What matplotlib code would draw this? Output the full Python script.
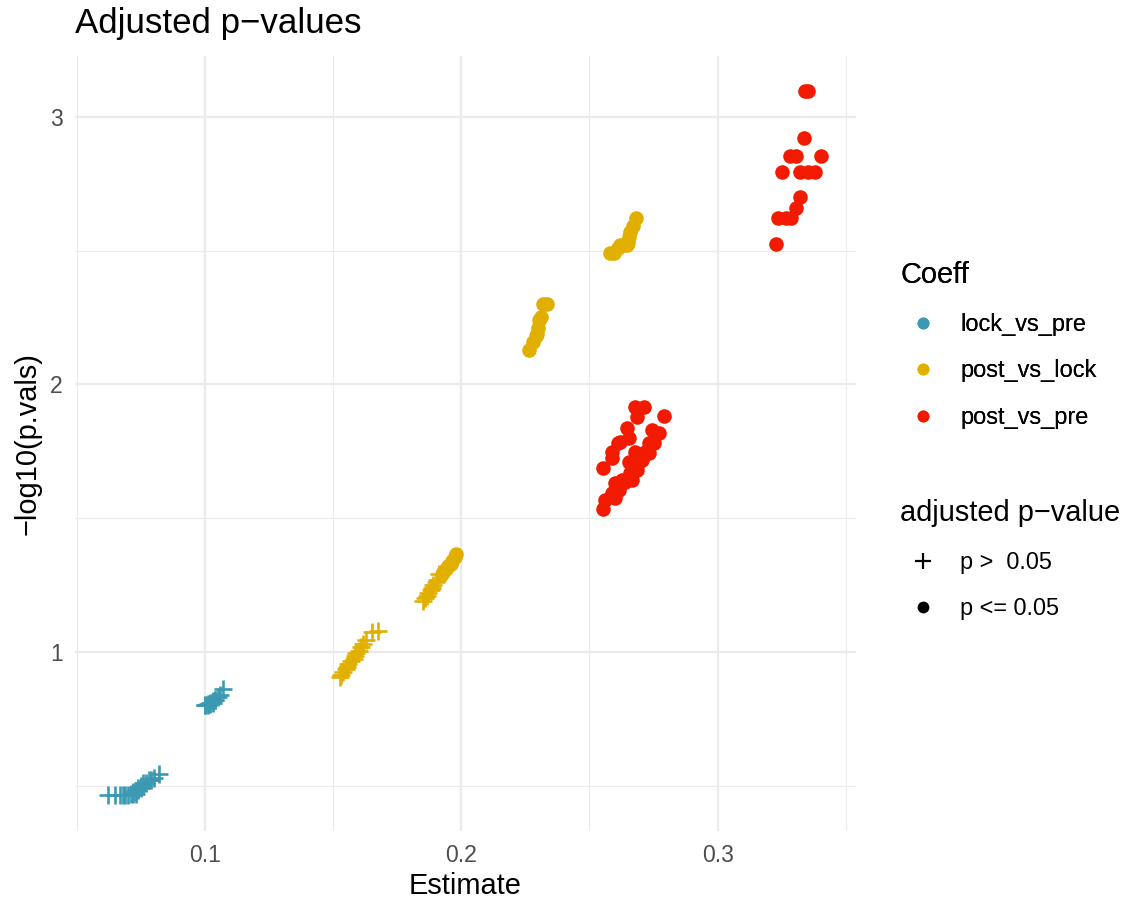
import matplotlib
matplotlib.use("Agg")
import matplotlib.pyplot as plt
from matplotlib.lines import Line2D
from matplotlib.ticker import MultipleLocator

plt.rcParams["font.family"] = ["Liberation Sans", "DejaVu Sans"]

# --- data ---
coeffs = ["lock_vs_pre", "post_vs_lock", "post_vs_pre"]
colors = ["#3B9AB2", "#E1AF00", "#F21A00"]

lock_est = [0.062, 0.065, 0.067, 0.068, 0.069, 0.070, 0.071, 0.072, 0.072, 0.073, 0.073,
            0.074, 0.074, 0.075, 0.075, 0.076, 0.076, 0.077, 0.078, 0.079, 0.080, 0.082,
            0.100, 0.100, 0.101, 0.101, 0.102, 0.102, 0.103, 0.103, 0.104, 0.104, 0.105,
            0.106, 0.107]
lock_lp = [0.465, 0.465, 0.465, 0.465, 0.465, 0.465, 0.468, 0.470, 0.475, 0.470, 0.480,
           0.485, 0.490, 0.490, 0.500, 0.500, 0.510, 0.510, 0.520, 0.520, 0.530, 0.545,
           0.800, 0.800, 0.800, 0.805, 0.805, 0.810, 0.810, 0.815, 0.820, 0.820, 0.830,
           0.840, 0.860]
lock_sig = [0] * 35

plock_est = [0.1525, 0.153, 0.154, 0.155, 0.1555, 0.156, 0.157, 0.158, 0.1585, 0.159,
             0.160, 0.161, 0.1615, 0.163, 0.165, 0.1675,
             0.185, 0.186, 0.1865, 0.187, 0.188, 0.1885, 0.189, 0.190, 0.1905, 0.1915,
             0.1925, 0.193, 0.194, 0.195, 0.196, 0.1965, 0.1975, 0.198,
             0.2265, 0.228, 0.229, 0.2295, 0.230, 0.2305, 0.231, 0.232, 0.2335,
             0.258, 0.2595, 0.261, 0.262, 0.263, 0.2645, 0.265, 0.2655, 0.266, 0.267, 0.268]
plock_lp = [0.905, 0.915, 0.925, 0.935, 0.945, 0.955, 0.965, 0.975, 0.985, 0.995,
            1.005, 1.020, 1.030, 1.045, 1.075, 1.080,
            1.19, 1.20, 1.21, 1.22, 1.23, 1.24, 1.25, 1.26, 1.27, 1.29,
            1.29, 1.30, 1.31, 1.32, 1.33, 1.34, 1.355, 1.365,
            2.13, 2.16, 2.18, 2.19, 2.21, 2.24, 2.25, 2.30, 2.30,
            2.49, 2.49, 2.51, 2.52, 2.52, 2.52, 2.53, 2.55, 2.57, 2.59, 2.62]
plock_sig = [0] * 26 + [1] * 28

ppre_est = [0.2554, 0.2562, 0.2601, 0.2554, 0.2589, 0.2589, 0.2613, 0.2620, 0.2648, 0.2656,
            0.2679, 0.2714, 0.2687, 0.2789, 0.2746, 0.2773, 0.2734, 0.2753, 0.2718, 0.2679,
            0.2656, 0.2706, 0.2687, 0.2660, 0.2628, 0.2601, 0.2640, 0.2616, 0.2667, 0.2589,
            0.2695, 0.2734,
            0.3352, 0.3340, 0.3337, 0.3282, 0.3305, 0.3403, 0.3250, 0.3321, 0.3352, 0.3380,
            0.3321, 0.3305, 0.3235, 0.3266, 0.3286, 0.3227]
ppre_lp = [1.535, 1.568, 1.576, 1.688, 1.725, 1.748, 1.781, 1.785, 1.837, 1.800,
           1.916, 1.916, 1.878, 1.882, 1.830, 1.819, 1.781, 1.781, 1.748, 1.748,
           1.710, 1.718, 1.680, 1.669, 1.643, 1.632, 1.636, 1.606, 1.643, 1.594,
           1.710, 1.744,
           3.097, 3.097, 2.921, 2.854, 2.854, 2.854, 2.794, 2.794, 2.794, 2.794,
           2.701, 2.660, 2.622, 2.622, 2.622, 2.525]
ppre_sig = [1] * 48

series = [(lock_est, lock_lp, lock_sig),
          (plock_est, plock_lp, plock_sig),
          (ppre_est, ppre_lp, ppre_sig)]

fig = plt.figure(figsize=(11.3, 9.02), dpi=100)
ax = fig.add_axes([75 / 1130, 1 - 831 / 902, 781 / 1130, 775 / 902])

for (est, lp, sig), col in zip(series, colors):
    ns = [(e, v) for e, v, s in zip(est, lp, sig) if not s]
    ss = [(e, v) for e, v, s in zip(est, lp, sig) if s]
    if ns:
        ax.scatter([p[0] for p in ns], [p[1] for p in ns], marker="+", s=170,
                   linewidths=1.9, color=col, zorder=3)
    if ss:
        ax.scatter([p[0] for p in ss], [p[1] for p in ss], marker="o", s=110,
                   linewidths=0, color=col, zorder=3)

ax.set_xlim(0.0493, 0.354)
ax.set_ylim(0.331, 3.227)
ax.xaxis.set_minor_locator(MultipleLocator(0.05))
ax.yaxis.set_minor_locator(MultipleLocator(0.5))
ax.set_xticks([0.1, 0.2, 0.3])
ax.set_xticklabels(["0.1", "0.2", "0.3"])
ax.set_yticks([1, 2, 3])
ax.set_yticklabels(["1", "2", "3"])
ax.grid(which="major", color="#EBEBEB", linewidth=1.6, zorder=0)
ax.grid(which="minor", color="#EBEBEB", linewidth=0.8, zorder=0)
ax.set_axisbelow(True)
for sp in ax.spines.values():
    sp.set_visible(False)
ax.tick_params(which="both", length=0, labelsize=16.6, labelcolor="#4D4D4D")
ax.tick_params(axis="x", pad=9)
ax.tick_params(axis="y", pad=9)

ax.set_xlabel("Estimate", fontsize=20.9, labelpad=4)
ax.set_ylabel("\u2212log10(p.vals)", fontsize=20.9, labelpad=6)
fig.text(75 / 1130, 1 - 33 / 902, "Adjusted p\u2212values", fontsize=25.1,
         ha="left", va="baseline")

# legends
leg_kw = dict(loc="upper left", frameon=False, fontsize=16.9, title_fontsize=20.9,
              alignment="left", labelspacing=1.0, handletextpad=0.65,
              handlelength=1.9, borderaxespad=0)
h1 = [Line2D([], [], marker="o", linestyle="", markersize=8.5, markeredgewidth=0,
             color=c) for c in colors]
leg1 = fig.legend(h1, coeffs, title="Coeff",
                  bbox_to_anchor=(891 / 1130, 1 - 252 / 902), **leg_kw)
h2 = [Line2D([], [], marker="+", linestyle="", markersize=12, markeredgewidth=1.6,
             color="black"),
      Line2D([], [], marker="o", linestyle="", markersize=8.5, markeredgewidth=0,
             color="black")]
leg2 = fig.legend(h2, ["p >  0.05", "p <= 0.05"], title="adjusted p\u2212value",
                  bbox_to_anchor=(891 / 1130, 1 - 490 / 902), **leg_kw)
fig.add_artist(leg1)

fig.savefig("out.png", dpi=100, facecolor="white")
